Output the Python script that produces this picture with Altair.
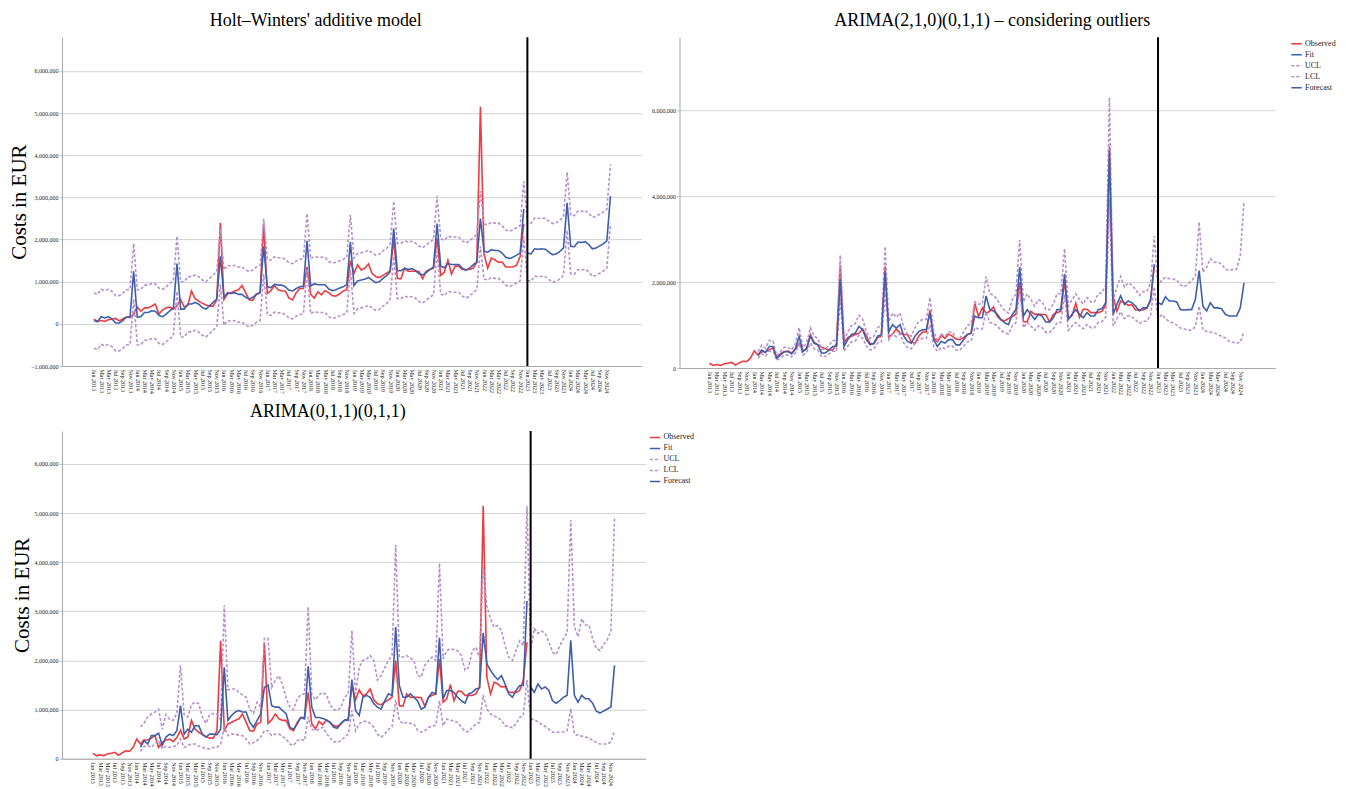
import json
import altair as alt
import pandas as pd

# ---------------- data (values in million EUR) ----------------
MONTHS = ["Jan", "Feb", "Mar", "Apr", "May", "Jun", "Jul", "Aug", "Sep", "Oct", "Nov", "Dec"]
START_YEAR = 2013
N_OBS = 120          # Jan 2013 .. Dec 2022
N_FC = 24            # Jan 2023 .. Dec 2024
SERIES = ["Observed", "Fit", "UCL", "LCL", "Forecast"]

observed = [
    0.11, 0.06, 0.08, 0.06, 0.10, 0.11, 0.13, 0.07, 0.12, 0.16, 0.15, 0.23,
    0.40, 0.30, 0.38, 0.38, 0.42, 0.47, 0.23, 0.33, 0.38, 0.40, 0.35, 0.43,
    0.58, 0.40, 0.44, 0.78, 0.60, 0.54, 0.49, 0.45, 0.42, 0.42, 0.57, 2.40,
    0.58, 0.71, 0.74, 0.78, 0.81, 0.91, 0.74, 0.57, 0.56, 0.71, 0.74, 2.37,
    0.72, 0.79, 0.91, 0.81, 0.78, 0.78, 0.61, 0.57, 0.74, 0.84, 0.84, 1.35,
    0.71, 0.61, 0.76, 0.69, 0.79, 0.74, 0.67, 0.66, 0.71, 0.78, 0.81, 1.50,
    1.20, 1.40, 1.28, 1.32, 1.42, 1.20, 1.12, 1.10, 1.15, 1.20, 1.25, 2.00,
    1.08, 1.07, 1.32, 1.25, 1.25, 1.25, 1.24, 1.07, 1.25, 1.29, 1.32, 2.03,
    1.15, 1.22, 1.51, 1.18, 1.37, 1.37, 1.29, 1.29, 1.29, 1.32, 1.46, 5.15,
    1.66, 1.32, 1.56, 1.52, 1.46, 1.47, 1.35, 1.35, 1.35, 1.39, 1.60, 2.37,
]

# --- Holt-Winters' additive model ---
hw_fit = [
    0.08, 0.05, 0.17, 0.14, 0.17, 0.12, 0.02, 0.02, 0.08, 0.16, 0.17, 1.25,
    0.16, 0.17, 0.27, 0.27, 0.31, 0.30, 0.20, 0.17, 0.23, 0.31, 0.38, 1.43,
    0.35, 0.35, 0.47, 0.47, 0.51, 0.47, 0.39, 0.35, 0.43, 0.51, 0.59, 1.60,
    0.63, 0.74, 0.72, 0.74, 0.70, 0.70, 0.63, 0.59, 0.63, 0.70, 0.74, 1.84,
    0.88, 0.86, 0.94, 0.92, 0.92, 0.88, 0.80, 0.78, 0.84, 0.88, 0.90, 1.97,
    0.90, 0.95, 0.93, 0.93, 0.93, 0.83, 0.79, 0.81, 0.85, 0.88, 0.93, 1.94,
    0.91, 1.02, 1.04, 1.06, 1.10, 1.04, 0.98, 1.00, 1.08, 1.14, 1.24, 2.26,
    1.26, 1.26, 1.32, 1.29, 1.31, 1.27, 1.19, 1.16, 1.22, 1.29, 1.35, 2.38,
    1.37, 1.33, 1.43, 1.41, 1.41, 1.41, 1.32, 1.27, 1.32, 1.40, 1.47, 2.50,
    1.72, 1.70, 1.76, 1.74, 1.74, 1.68, 1.58, 1.55, 1.58, 1.63, 1.68, 2.73,
]
hw_fc = [1.68, 1.66, 1.78, 1.77, 1.78, 1.77, 1.70, 1.64, 1.66, 1.72, 1.80, 2.87,
         1.84, 1.83, 1.94, 1.93, 1.95, 1.88, 1.78, 1.80, 1.85, 1.90, 1.97, 3.03]
hw_ucl = [
    0.73, 0.70, 0.82, 0.79, 0.82, 0.77, 0.67, 0.67, 0.73, 0.81, 0.82, 1.90,
    0.81, 0.82, 0.92, 0.92, 0.96, 0.95, 0.85, 0.82, 0.88, 0.96, 1.03, 2.08,
    1.00, 1.00, 1.12, 1.12, 1.16, 1.12, 1.04, 1.00, 1.08, 1.16, 1.24, 2.25,
    1.28, 1.39, 1.37, 1.39, 1.35, 1.35, 1.28, 1.24, 1.28, 1.35, 1.39, 2.49,
    1.53, 1.51, 1.59, 1.57, 1.57, 1.53, 1.45, 1.43, 1.49, 1.53, 1.55, 2.62,
    1.55, 1.60, 1.58, 1.58, 1.58, 1.48, 1.44, 1.46, 1.50, 1.53, 1.58, 2.59,
    1.56, 1.67, 1.69, 1.71, 1.75, 1.69, 1.63, 1.65, 1.73, 1.79, 1.89, 2.91,
    1.91, 1.91, 1.97, 1.94, 1.96, 1.92, 1.84, 1.81, 1.87, 1.94, 2.00, 3.03,
    2.02, 1.98, 2.08, 2.06, 2.06, 2.06, 1.97, 1.92, 1.97, 2.05, 2.12, 3.15,
    2.37, 2.35, 2.41, 2.39, 2.39, 2.33, 2.23, 2.20, 2.23, 2.28, 2.33, 3.38,
    2.41, 2.39, 2.51, 2.50, 2.51, 2.50, 2.43, 2.38, 2.40, 2.46, 2.54, 3.60,
    2.58, 2.57, 2.68, 2.67, 2.69, 2.62, 2.53, 2.55, 2.60, 2.65, 2.72, 3.78,
]
hw_lcl = [
    -0.58, -0.61, -0.49, -0.52, -0.49, -0.54, -0.64, -0.64, -0.58, -0.50, -0.49, 0.59,
    -0.50, -0.49, -0.39, -0.39, -0.35, -0.36, -0.46, -0.49, -0.43, -0.35, -0.28, 0.77,
    -0.31, -0.31, -0.19, -0.19, -0.15, -0.19, -0.27, -0.31, -0.23, -0.15, -0.07, 0.94,
    -0.03, 0.08, 0.06, 0.08, 0.04, 0.04, -0.03, -0.07, -0.03, 0.04, 0.08, 1.18,
    0.22, 0.20, 0.28, 0.26, 0.26, 0.22, 0.14, 0.12, 0.18, 0.22, 0.24, 1.31,
    0.24, 0.29, 0.27, 0.27, 0.27, 0.17, 0.13, 0.15, 0.19, 0.22, 0.27, 1.28,
    0.25, 0.36, 0.38, 0.40, 0.44, 0.38, 0.32, 0.34, 0.42, 0.48, 0.58, 1.60,
    0.60, 0.60, 0.66, 0.63, 0.65, 0.61, 0.53, 0.50, 0.56, 0.63, 0.69, 1.72,
    0.71, 0.67, 0.77, 0.75, 0.75, 0.75, 0.66, 0.61, 0.66, 0.74, 0.81, 1.84,
    1.06, 1.04, 1.10, 1.08, 1.08, 1.02, 0.92, 0.89, 0.92, 0.97, 1.02, 2.07,
    1.03, 1.01, 1.13, 1.12, 1.13, 1.12, 1.05, 0.99, 1.01, 1.07, 1.15, 2.22,
    1.19, 1.18, 1.29, 1.28, 1.30, 1.23, 1.13, 1.15, 1.20, 1.25, 1.32, 2.38,
]

# --- ARIMA(2,1,0)(0,1,1) considering outliers (fit from Feb 2014) ---
a2_start = 13
a2_fit = [
    0.30, 0.42, 0.36, 0.50, 0.50, 0.23, 0.30, 0.38, 0.38, 0.33, 0.45,
    0.74, 0.38, 0.46, 0.74, 0.58, 0.54, 0.35, 0.35, 0.42, 0.50, 0.50, 2.07,
    0.50, 0.66, 0.78, 0.81, 0.97, 0.89, 0.66, 0.54, 0.58, 0.74, 0.78, 2.23,
    0.85, 1.01, 0.93, 1.01, 0.74, 0.62, 0.58, 0.74, 0.85, 0.89, 0.89, 1.29,
    0.66, 0.50, 0.62, 0.58, 0.66, 0.66, 0.54, 0.54, 0.66, 0.78, 0.81, 1.21,
    1.17, 1.17, 1.68, 1.36, 1.33, 1.25, 1.13, 1.05, 1.01, 1.25, 1.36, 2.35,
    1.21, 1.36, 1.25, 1.13, 1.25, 1.21, 1.07, 1.07, 1.17, 1.36, 1.36, 2.19,
    1.13, 1.25, 1.36, 1.25, 1.17, 1.29, 1.21, 1.21, 1.36, 1.38, 1.52, 5.05,
    1.25, 1.48, 1.68, 1.48, 1.56, 1.52, 1.44, 1.33, 1.40, 1.40, 1.56, 2.42,
]
a2_fc = [1.52, 1.48, 1.66, 1.56, 1.56, 1.54, 1.36, 1.35, 1.36, 1.36, 1.60, 2.27,
         1.44, 1.33, 1.52, 1.40, 1.40, 1.38, 1.25, 1.21, 1.21, 1.21, 1.40, 1.98]
a2_ucl = [
    0.38, 0.53, 0.46, 0.64, 0.64, 0.29, 0.38, 0.48, 0.48, 0.42, 0.57,
    0.94, 0.48, 0.58, 0.94, 0.74, 0.69, 0.44, 0.44, 0.53, 0.64, 0.64, 2.63,
    0.64, 0.84, 0.99, 1.03, 1.23, 1.13, 0.84, 0.69, 0.74, 0.94, 0.99, 2.83,
    1.08, 1.28, 1.18, 1.28, 0.94, 0.79, 0.74, 0.94, 1.08, 1.13, 1.13, 1.64,
    0.84, 0.64, 0.79, 0.74, 0.84, 0.84, 0.69, 0.69, 0.84, 0.99, 1.03, 1.54,
    1.49, 1.49, 2.13, 1.73, 1.69, 1.59, 1.44, 1.33, 1.28, 1.59, 1.73, 2.98,
    1.54, 1.73, 1.59, 1.44, 1.59, 1.54, 1.36, 1.36, 1.49, 1.73, 1.73, 2.78,
    1.44, 1.59, 1.73, 1.59, 1.49, 1.64, 1.54, 1.54, 1.73, 1.75, 1.93, 6.30,
    1.59, 1.88, 2.13, 1.88, 1.98, 1.93, 1.83, 1.69, 1.78, 1.78, 1.98, 3.07,
    1.91, 2.05, 2.11, 2.08, 2.07, 2.05, 1.93, 1.90, 1.95, 2.03, 2.15, 3.40,
    2.23, 2.35, 2.54, 2.46, 2.47, 2.42, 2.30, 2.27, 2.29, 2.30, 2.62, 3.87,
]
a2_lcl = [
    0.23, 0.33, 0.28, 0.39, 0.39, 0.18, 0.23, 0.30, 0.30, 0.26, 0.35,
    0.58, 0.30, 0.36, 0.58, 0.45, 0.42, 0.27, 0.27, 0.33, 0.39, 0.39, 1.61,
    0.39, 0.51, 0.61, 0.63, 0.76, 0.69, 0.51, 0.42, 0.45, 0.58, 0.61, 1.74,
    0.66, 0.79, 0.73, 0.79, 0.58, 0.48, 0.45, 0.58, 0.66, 0.69, 0.69, 1.01,
    0.51, 0.39, 0.48, 0.45, 0.51, 0.51, 0.42, 0.42, 0.51, 0.61, 0.63, 0.94,
    0.91, 0.91, 1.31, 1.06, 1.04, 0.98, 0.88, 0.82, 0.79, 0.98, 1.06, 1.83,
    0.94, 1.06, 0.98, 0.88, 0.98, 0.94, 0.83, 0.83, 0.91, 1.06, 1.06, 1.71,
    0.88, 0.98, 1.06, 0.98, 0.91, 1.01, 0.94, 0.94, 1.06, 1.08, 1.19, 3.94,
    0.98, 1.15, 1.31, 1.15, 1.22, 1.19, 1.12, 1.04, 1.09, 1.09, 1.22, 1.89,
    1.13, 1.25, 1.15, 1.08, 1.05, 1.00, 0.93, 0.91, 0.89, 0.88, 0.97, 1.44,
    0.89, 0.85, 0.84, 0.82, 0.78, 0.74, 0.70, 0.62, 0.60, 0.58, 0.60, 0.85,
]

# --- ARIMA(0,1,1)(0,1,1) (fit from Feb 2014) ---
a3_start = 13
a3_fit = [
    0.23, 0.37, 0.30, 0.47, 0.47, 0.52, 0.27, 0.44, 0.50, 0.47, 0.57,
    1.08, 0.50, 0.60, 0.54, 0.67, 0.67, 0.50, 0.44, 0.50, 0.50, 0.49, 0.60,
    1.86, 0.78, 0.88, 0.95, 0.98, 0.95, 0.95, 0.74, 0.64, 0.78, 0.91, 1.45,
    1.50, 1.08, 1.05, 1.05, 0.98, 0.91, 0.64, 0.60, 0.71, 0.84, 0.81, 1.88,
    1.05, 0.84, 0.84, 0.82, 0.79, 0.74, 0.64, 0.62, 0.72, 0.79, 0.78, 1.61,
    0.98, 0.88, 1.25, 1.29, 1.25, 1.12, 1.05, 1.01, 1.18, 1.32, 1.29, 2.68,
    1.49, 1.25, 1.25, 1.32, 1.25, 1.18, 1.01, 1.05, 1.25, 1.35, 1.32, 2.46,
    1.22, 1.39, 1.39, 1.35, 1.25, 1.18, 1.13, 1.32, 1.35, 1.42, 1.44, 2.56,
    1.93, 1.80, 1.69, 1.61, 1.69, 1.52, 1.32, 1.25, 1.39, 1.49, 1.49, 3.21,
]
a3_fc = [1.46, 1.35, 1.52, 1.42, 1.46, 1.39, 1.18, 1.13, 1.18, 1.25, 1.29, 2.41,
         1.29, 1.15, 1.29, 1.22, 1.22, 1.13, 0.97, 0.93, 0.97, 1.01, 1.05, 1.90]
a3_ucl = [
    0.65, 0.72, 0.85, 0.91, 0.95, 1.01, 0.60, 0.90, 0.80, 0.78, 0.92,
    1.90, 0.90, 0.85, 1.10, 1.15, 1.12, 0.85, 0.72, 0.90, 0.92, 0.90, 0.80,
    3.12, 1.40, 1.42, 1.42, 1.35, 1.30, 1.25, 1.00, 0.92, 1.15, 1.05, 2.45,
    2.45, 1.45, 1.60, 1.69, 1.50, 1.22, 1.05, 1.00, 1.22, 1.30, 1.32, 3.09,
    1.30, 1.20, 1.30, 1.35, 1.30, 1.10, 1.00, 0.98, 1.05, 1.25, 1.32, 2.61,
    1.32, 1.86, 2.00, 2.03, 2.10, 2.00, 1.60, 1.69, 1.85, 2.00, 2.10, 4.35,
    2.07, 2.07, 2.10, 2.05, 2.00, 1.70, 1.66, 1.90, 2.00, 2.07, 2.00, 3.98,
    2.03, 2.20, 2.24, 2.22, 2.20, 2.10, 1.80, 1.86, 2.20, 2.27, 2.05, 3.90,
    3.10, 2.85, 2.68, 2.71, 2.61, 2.30, 2.07, 2.00, 2.20, 2.40, 2.30, 5.14,
    2.20, 2.65, 2.55, 2.60, 2.55, 2.38, 2.17, 2.12, 2.30, 2.44, 2.56, 4.86,
    2.68, 2.48, 2.85, 2.72, 2.72, 2.45, 2.25, 2.20, 2.32, 2.42, 2.60, 4.89,
]
a3_lcl = [
    0.15, 0.25, 0.27, 0.23, 0.30, 0.37, 0.20, 0.25, 0.23, 0.25, 0.27,
    0.40, 0.23, 0.27, 0.30, 0.30, 0.26, 0.23, 0.21, 0.20, 0.23, 0.23, 0.30,
    0.64, 0.47, 0.50, 0.50, 0.48, 0.47, 0.40, 0.30, 0.33, 0.37, 0.44, 0.57,
    0.57, 0.47, 0.50, 0.50, 0.45, 0.40, 0.30, 0.27, 0.37, 0.40, 0.37, 0.85,
    0.60, 0.57, 0.60, 0.64, 0.52, 0.42, 0.35, 0.33, 0.37, 0.44, 0.50, 0.98,
    0.57, 0.71, 0.76, 0.76, 0.72, 0.64, 0.50, 0.44, 0.50, 0.60, 0.65, 1.20,
    0.78, 0.71, 0.74, 0.72, 0.71, 0.58, 0.54, 0.57, 0.64, 0.66, 0.68, 1.18,
    0.67, 0.81, 0.78, 0.77, 0.74, 0.64, 0.56, 0.55, 0.64, 0.71, 0.74, 1.30,
    1.01, 0.91, 0.87, 0.84, 0.78, 0.67, 0.66, 0.63, 0.71, 0.84, 0.88, 1.60,
    0.80, 0.80, 0.75, 0.70, 0.66, 0.60, 0.54, 0.54, 0.54, 0.55, 0.57, 1.02,
    0.50, 0.48, 0.46, 0.44, 0.42, 0.38, 0.33, 0.30, 0.30, 0.30, 0.34, 0.57,
]

# x tick labels: every second month, Jan 2013 .. Nov 2024
XTICKS = list(range(0, N_OBS + N_FC, 2))

# ---------------- styling ----------------
SERIF = "Liberation Serif"
COLORS = ["#f03a40", "#3d5fac", "#b98fcc", "#b98fcc", "#3d5fac"]
DASHES = [[1, 0], [1, 0], [3, 2], [3, 2], [1, 0]]
WIDTHS = [1.6, 1.6, 1.2, 1.2, 1.6]
LABEL_EXPR = (json.dumps(MONTHS) + "[datum.value % 12] + ' ' + ("
              + str(START_YEAR) + " + floor(datum.value / 12))")


def build_frame(fit, fit_start, fc, ucl, lcl, band_start):
    assert len(observed) == N_OBS
    assert fit_start + len(fit) == N_OBS, (fit_start, len(fit))
    assert len(fc) == N_FC
    assert band_start + len(ucl) == N_OBS + N_FC, len(ucl)
    assert band_start + len(lcl) == N_OBS + N_FC, len(lcl)
    rows = []
    for i, v in enumerate(observed):
        rows.append((i, v * 1e6, "Observed"))
    for i, v in enumerate(ucl):
        rows.append((band_start + i, v * 1e6, "UCL"))
    for i, v in enumerate(lcl):
        rows.append((band_start + i, v * 1e6, "LCL"))
    for i, v in enumerate(fit):
        rows.append((fit_start + i, v * 1e6, "Fit"))
    for i, v in enumerate(fc):
        rows.append((N_OBS + i, v * 1e6, "Forecast"))
    return pd.DataFrame(rows, columns=["t", "value", "series"])


def panel(df, width, height, xdom, ydom, yticks, title, title_dx, title_offset,
          ytitle, legend_offset):
    xenc = alt.X(
        "t:Q",
        scale=alt.Scale(domain=xdom, nice=False, zero=False),
        axis=alt.Axis(values=XTICKS, labelExpr=LABEL_EXPR, labelAngle=90,
                      labelFontSize=6, labelFont=SERIF, labelColor="#222222",
                      labelOverlap=False, labelFlush=False, grid=False,
                      ticks=False, domainColor="#a8a8a8", labelPadding=3,
                      title=None),
    )
    yaxis_kw = dict(values=yticks, format=",.0f", labelFontSize=6, labelFont=SERIF,
                    labelColor="#222222", grid=True, gridColor="#d2d2d2",
                    tickSize=3, tickColor="#c4c4c4", domainColor="#a8a8a8",
                    labelPadding=1)
    if ytitle:
        yaxis = alt.Axis(title=ytitle, titleFont=SERIF, titleFontSize=21,
                         titleFontWeight="normal", titleColor="black",
                         titlePadding=1, **yaxis_kw)
    else:
        yaxis = alt.Axis(title=None, **yaxis_kw)
    yenc = alt.Y("value:Q", scale=alt.Scale(domain=ydom, nice=False, zero=False),
                 axis=yaxis)
    if legend_offset is None:
        leg = None
    else:
        leg = alt.Legend(title=None, orient="right", offset=legend_offset,
                         labelFont=SERIF, labelFontSize=8, labelColor="#222222",
                         symbolType="stroke", symbolSize=110,
                         symbolStrokeWidth=1.6, rowPadding=0, padding=0,
                         labelOffset=2)
    lines = alt.Chart(df).mark_line().encode(
        x=xenc,
        y=yenc,
        color=alt.Color("series:N", scale=alt.Scale(domain=SERIES, range=COLORS),
                        legend=leg),
        strokeDash=alt.StrokeDash("series:N",
                                  scale=alt.Scale(domain=SERIES, range=DASHES),
                                  legend=leg),
        strokeWidth=alt.StrokeWidth("series:N",
                                    scale=alt.Scale(domain=SERIES, range=WIDTHS),
                                    legend=None),
    )
    split = alt.Chart(pd.DataFrame({"t": [N_OBS]})).mark_rule(
        color="black", strokeWidth=2).encode(x=xenc)
    return alt.layer(lines, split).properties(
        width=width, height=height,
        title=alt.TitleParams(title, font=SERIF, fontSize=18, fontWeight="normal",
                              color="black", dx=title_dx, offset=title_offset),
    )


df_hw = build_frame(hw_fit, 0, hw_fc, hw_ucl, hw_lcl, 0)
df_a2 = build_frame(a2_fit, a2_start, a2_fc, a2_ucl, a2_lcl, a2_start)
df_a3 = build_frame(a3_fit, a3_start, a3_fc, a3_ucl, a3_lcl, a3_start)

p1 = panel(df_hw, 580, 329, [-8.85, 151.6], [-1e6, 6.8e6],
           [-1e6, 0, 1e6, 2e6, 3e6, 4e6, 5e6, 6e6],
           "Holt\u2013Winters' additive model", -36, 6, "Costs in EUR", None)
p2 = panel(df_a2, 596, 331, [-8.0, 151.3], [0, 7.7e6],
           [0, 2e6, 4e6, 6e6],
           "ARIMA(2,1,0)(0,1,1) \u2013 considering outliers", 15, 6, None, 15)
p3 = panel(df_a3, 584, 328, [-8.5, 151.5], [0, 6.67e6],
           [0, 1e6, 2e6, 3e6, 4e6, 5e6, 6e6],
           "ARIMA(0,1,1)(0,1,1)", -26, 9, "Costs in EUR", 3)

chart = alt.concat(
    p1, p2, p3, columns=2, spacing={"row": 63, "column": 34}, bounds="flush"
).resolve_scale(
    color="independent", strokeDash="independent", strokeWidth="independent"
).resolve_legend(
    color="independent", strokeDash="independent"
).properties(
    padding={"left": 0, "top": 4, "right": 2, "bottom": 0},
    background="white",
).configure_view(stroke=None)

chart.save("out.html", embed_options={"renderer": "svg", "actions": False})
